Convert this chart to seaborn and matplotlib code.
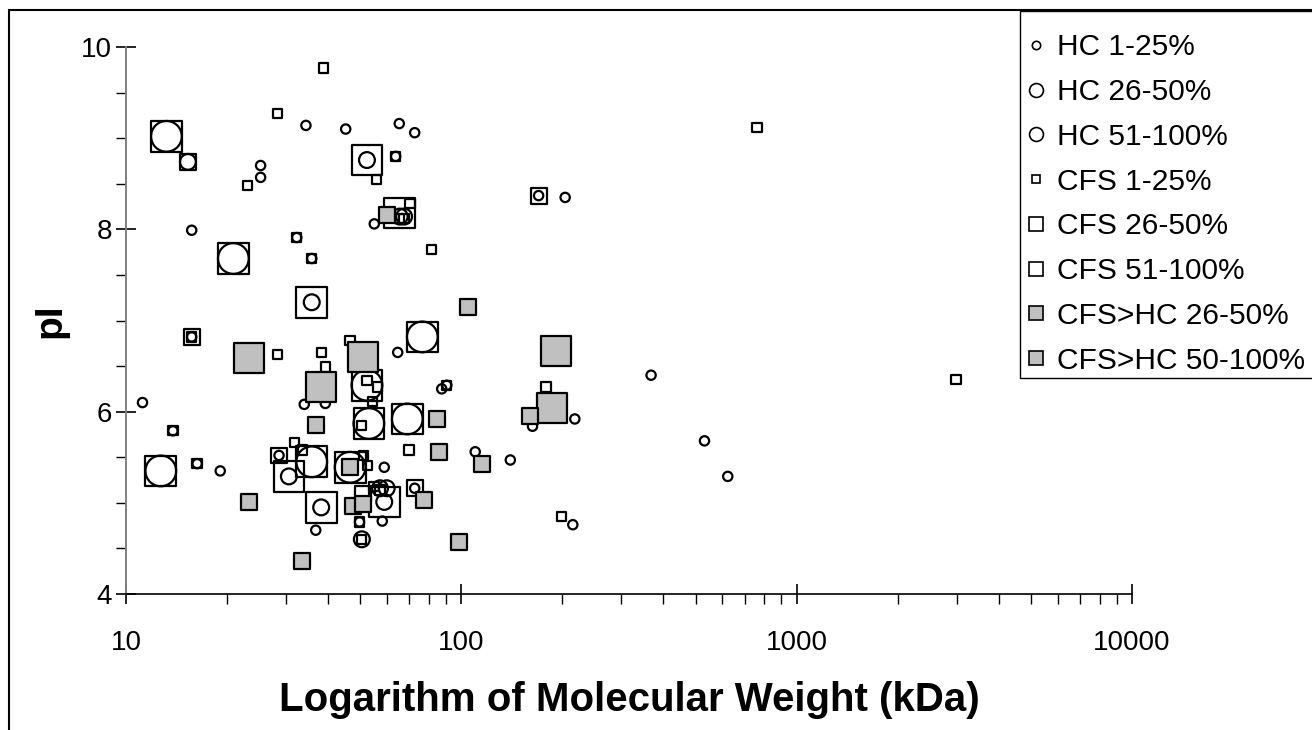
import matplotlib
matplotlib.use('Agg')
import matplotlib.pyplot as plt
import seaborn as sns
import numpy as np
from matplotlib.lines import Line2D
from matplotlib.patches import Rectangle
from matplotlib.ticker import FixedLocator, MultipleLocator, LogLocator, NullFormatter, FixedFormatter


# molecular weight (kDa) and pI for each group
hc1_mw = [34.4, 45.2, 65.3, 72.6, 25.2, 25.2, 15.7, 32.3, 35.8, 63.7, 55.0, 170, 204,
          15.7, 13.8, 16.3, 11.2, 19.1, 34.0, 39.3, 36.8, 28.6, 64.6, 87.4, 90.5,
          163, 218, 110, 140, 58.9, 49.7, 58.1, 72.6, 215, 368, 531, 623]
hc1_pi = [9.14, 9.10, 9.16, 9.06, 8.70, 8.57, 7.99, 7.91, 7.68, 8.80, 8.06, 8.37, 8.35,
          6.82, 5.79, 5.43, 6.10, 5.35, 6.08, 6.09, 4.70, 5.52, 6.65, 6.25, 6.29,
          5.84, 5.92, 5.56, 5.47, 5.39, 4.79, 4.80, 5.16, 4.76, 6.40, 5.68, 5.29]

hc2_mw = [15.3, 52.3, 35.8, 30.6, 38.2, 58.9, 50.5, 65.5, 67.5, 57.2, 59.9]
hc2_pi = [8.74, 8.76, 7.20, 5.29, 4.95, 5.01, 4.60, 8.14, 8.14, 5.16, 5.16]

hc3_mw = [13.2, 20.9, 12.7, 35.8, 76.5, 52.3, 53.0, 69.0, 46.6]
hc3_pi = [9.02, 7.68, 5.35, 5.45, 6.82, 6.29, 5.87, 5.92, 5.39]

cfs1_mw = [38.8, 28.3, 23.0, 55.9, 63.7, 32.3, 35.8, 70.3, 65.5, 67.5, 81.6, 762,
           15.7, 28.3, 38.2, 39.3, 46.6, 52.3, 56.3, 54.4, 90.5, 179, 13.8, 16.3,
           31.8, 33.6, 50.5, 69.8, 51.0, 52.6, 54.9, 57.2, 49.7, 50.5, 199, 2985]
cfs1_pi = [9.77, 9.27, 8.48, 8.55, 8.80, 7.91, 7.68, 8.28, 8.12, 8.12, 7.78, 9.12,
           6.82, 6.63, 6.65, 6.49, 6.78, 6.34, 6.27, 6.11, 6.29, 6.27, 5.79, 5.43,
           5.66, 5.58, 5.85, 5.58, 5.52, 5.41, 5.18, 5.14, 4.79, 4.60, 4.85, 6.35]

cfs2_mw = [15.3, 170, 15.7, 28.6, 72.6, 51.0]
cfs2_pi = [8.74, 8.37, 6.82, 5.52, 5.16, 5.10]

cfs3_mw = [13.2, 52.3, 65.4, 20.9, 35.8, 76.5, 52.3, 53.0, 69.0, 12.7, 30.6, 35.8, 46.6, 38.2, 58.9]
cfs3_pi = [9.02, 8.76, 8.18, 7.68, 7.20, 6.82, 6.29, 5.87, 5.92, 5.35, 5.29, 5.45, 5.39, 4.95, 5.01]

up2_mw = [60.1, 105, 36.8, 84.8, 86.0, 115, 160, 23.3, 33.5, 46.6, 47.6, 51.0, 77.6, 98.2]
up2_pi = [8.16, 7.15, 5.85, 5.92, 5.56, 5.43, 5.95, 5.01, 4.36, 5.39, 4.97, 4.99, 5.03, 4.57]

up3_mw = [23.3, 38.2, 51.0, 191, 187]
up3_pi = [6.59, 6.27, 6.60, 6.67, 6.04]

labels = ['HC 1-25%', 'HC 26-50%', 'HC 51-100%', 'CFS 1-25%', 'CFS 26-50%',
          'CFS 51-100%', 'CFS>HC 26-50%', 'CFS>HC 50-100%']


sns.set_style('white')
plt.rcParams['font.family'] = ['Liberation Sans', 'DejaVu Sans']
plt.rcParams['text.color'] = 'black'
plt.rcParams['axes.labelcolor'] = 'black'

fig = plt.figure(figsize=(13.12, 7.30), dpi=100)
ax = fig.add_axes([126 / 1312, 1 - 594 / 730, (1132 - 126) / 1312, (594 - 47) / 730])

small, mid, big = 45, 130, 490
gray = '#c0c0c0'

# hollow markers first, filled grey squares on top
series = [
    (cfs3_mw, cfs3_pi, 's', big, 'none'),
    (cfs2_mw, cfs2_pi, 's', mid, 'none'),
    (cfs1_mw, cfs1_pi, 's', small, 'none'),
    (hc3_mw, hc3_pi, 'o', big, 'none'),
    (hc2_mw, hc2_pi, 'o', mid, 'none'),
    (hc1_mw, hc1_pi, 'o', small, 'none'),
    (up3_mw, up3_pi, 's', big, gray),
    (up2_mw, up2_pi, 's', mid, gray),
]
for mw, pi, mk, sz, fc in series:
    sns.scatterplot(x=mw, y=pi, marker=mk, s=sz, facecolor=fc, edgecolor='black',
                    linewidth=1.6, ax=ax, legend=False, clip_on=False)

ax.set_xscale('log')
ax.set_xlim(10, 10000)
ax.set_ylim(4, 10)

ax.xaxis.set_major_locator(FixedLocator([10, 100, 1000, 10000]))
ax.xaxis.set_major_formatter(FixedFormatter(['10', '100', '1000', '10000']))
ax.xaxis.set_minor_locator(LogLocator(base=10, subs=np.arange(2, 10)))
ax.xaxis.set_minor_formatter(NullFormatter())
ax.yaxis.set_major_locator(MultipleLocator(2))
ax.yaxis.set_minor_locator(MultipleLocator(0.5))

ax.tick_params(axis='both', which='major', direction='inout', length=14, width=1.2,
               labelsize=20, colors='black')
ax.tick_params(axis='x', which='major', pad=19)
ax.tick_params(axis='y', which='major', pad=3)
ax.tick_params(axis='both', which='minor', direction='out', length=7.5, width=1.0, color='black')
ax.tick_params(bottom=True, left=True, which='both')

for side in ['top', 'right']:
    ax.spines[side].set_visible(False)
ax.spines['bottom'].set_color('black')
ax.spines['bottom'].set_linewidth(1.2)
ax.spines['left'].set_color('#808080')
ax.spines['left'].set_linewidth(1.4)

ax.set_xlabel('Logarithm of Molecular Weight (kDa)', fontsize=29, fontweight='bold', labelpad=18)
ax.set_ylabel('pI', fontsize=28, fontweight='bold', labelpad=9)

# legend with small fixed-size handles
handles = []
leg_specs = [('o', 6), ('o', 10), ('o', 10), ('s', 6), ('s', 10), ('s', 10), ('s', 10), ('s', 10)]
for (mk, ms), lab, fc in zip(leg_specs, labels, ['none'] * 6 + [gray] * 2):
    handles.append(Line2D([], [], linestyle='none', marker=mk, markersize=ms,
                          markerfacecolor=fc, markeredgecolor='black',
                          markeredgewidth=1.2, label=lab))

# legend box drawn separately: text sits lower in the box than matplotlib's padding gives
legend_box = Rectangle((1020 / 1312, 1 - 378 / 730), 0.5, (378 - 11) / 730,
                       transform=fig.transFigure, facecolor='white', edgecolor='black',
                       linewidth=1.0, zorder=4)
fig.patches.append(legend_box)

leg = fig.legend(handles=handles, loc='upper left', bbox_to_anchor=(1020 / 1312, 1 - 32 / 730),
                 bbox_transform=fig.transFigure, fontsize=21.5, frameon=False,
                 borderaxespad=0, borderpad=0.05,
                 handlelength=0.95, handletextpad=0.25, labelspacing=0.56)
leg.set_zorder(6)

# outer border of the figure (only left and top fall inside the picture)
frame = Rectangle((9 / 1312, -0.2), 1.5, 1.2 - 10 / 730, transform=fig.transFigure,
                  fill=False, edgecolor='black', linewidth=1.5, zorder=10)
fig.patches.append(frame)

fig.savefig('out.png', dpi=100)
